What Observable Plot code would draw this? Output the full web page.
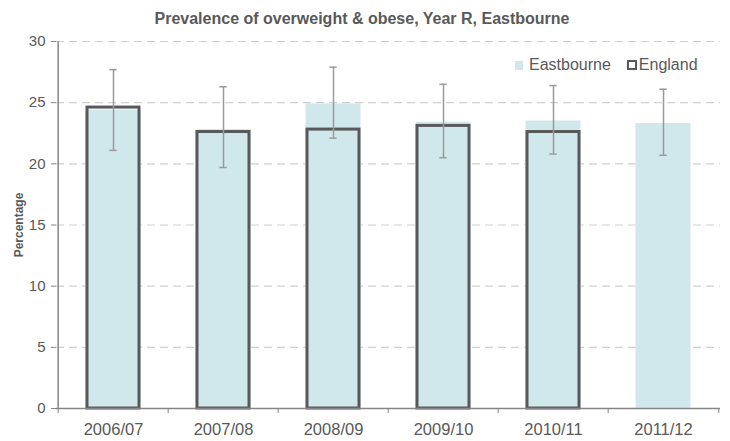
<!DOCTYPE html>
<html>
<head>
<meta charset="utf-8">
<script src="https://cdn.jsdelivr.net/npm/d3@7"></script>
<script src="https://cdn.jsdelivr.net/npm/@observablehq/plot@0.6"></script>
<style>
  body { margin: 0; background: #fff; font-family: Arial, "Liberation Sans", sans-serif; }
  #chart { position: relative; width: 730px; height: 441px; }
  #title { position: absolute; top: 10px; left: 0; width: 724px; text-align: center;
           font-weight: bold; font-size: 16px; line-height: 18px; color: #595959; }
  #legend { position: absolute; top: 56px; left: 515px; font-size: 16px; line-height: 18px;
            color: #595959; display: flex; align-items: center; white-space: nowrap; }
  #legend .sw { display: inline-block; box-sizing: border-box; margin-right: 6px; }
  #legend .fill { width: 8px; height: 9px; background: #d0e8ec; }
  #legend .outline { width: 10px; height: 10px; border: 2.5px solid #595959; margin-left: 16px; margin-right: 2px; }
</style>
</head>
<body>
<div id="chart">
  <div id="title">Prevalence of overweight &amp; obese, Year R, Eastbourne</div>
  <div id="legend"></div>
</div>
<script>
// School years and prevalence (%) of overweight & obese children in Reception
const years = ["2006/07", "2007/08", "2008/09", "2009/10", "2010/11", "2011/12"];
const eastbourne = [24.4, 22.8, 24.9, 23.4, 23.5, 23.3];
const england = [24.6, 22.6, 22.8, 23.1, 22.6, null];
// 95% confidence interval for Eastbourne
const ciLow = [21.1, 19.7, 22.1, 20.5, 20.8, 20.7];
const ciHigh = [27.7, 26.3, 27.9, 26.5, 26.4, 26.1];
const yTicks = [0, 5, 10, 15, 20, 25, 30];
const seriesNames = ["Eastbourne", "England"];

const rows = years.map((year, i) => ({
  year, eastbourne: eastbourne[i], england: england[i], lo: ciLow[i], hi: ciHigh[i]
}));

const W = 730, H = 441, mL = 56, mR = 10, mT = 41, mB = 33;
const step = (W - mL - mR) / years.length;
const textColor = "#595959";
const axisColor = "#868686";
const ciColor = "#9a9a9a";

const chart = Plot.plot({
  width: W, height: H,
  marginLeft: mL, marginRight: mR, marginTop: mT, marginBottom: mB,
  style: { fontFamily: "Arial, 'Liberation Sans', sans-serif", fontSize: "15px", color: textColor, background: "white" },
  x: { domain: years, padding: 0 },
  y: { domain: [0, 30] },
  marks: [
    // dashed gridlines
    Plot.ruleY(yTicks.filter(v => v > 0), { stroke: "#d0d0d0", strokeWidth: 1.2, strokeDasharray: "8,5" }),
    // Eastbourne bars
    Plot.barY(rows, { x: "year", y: "eastbourne", fill: "#d0e8ec", insetLeft: 27.5, insetRight: 27.5 }),
    // England outline bars
    Plot.barY(rows.filter(d => d.england != null), {
      x: "year", y: "england", fill: "none", stroke: "#595959", strokeWidth: 3, insetLeft: 29, insetRight: 29
    }),
    // confidence intervals
    Plot.ruleX(rows, { x: "year", y1: "lo", y2: "hi", stroke: ciColor, strokeWidth: 1.5 }),
    Plot.tickY(rows, { x: "year", y: "lo", stroke: ciColor, strokeWidth: 1.5, inset: (step - 8) / 2 }),
    Plot.tickY(rows, { x: "year", y: "hi", stroke: ciColor, strokeWidth: 1.5, inset: (step - 8) / 2 }),
    // axes
    Plot.axisY({ ticks: yTicks, tickSize: 5, tickPadding: 6, fontSize: 15, stroke: axisColor, fill: textColor, label: null }),
    Plot.axisX({ tickSize: 0, tickPadding: 15, fontSize: 16.5, fill: textColor, label: null }),
    Plot.ruleY([0], { stroke: axisColor, strokeWidth: 1.5 }),
    Plot.ruleX([years[0]], { x: d => d, y1: 0, y2: 30, dx: -step / 2, stroke: axisColor, strokeWidth: 1.5 }),
    // category boundary ticks on the x axis
    Plot.ruleX(years, { x: d => d, y1: 0, y2: 0, insetBottom: -5, dx: -step / 2, stroke: axisColor }),
    Plot.ruleX([years[years.length - 1]], { x: d => d, y1: 0, y2: 0, insetBottom: -5, dx: step / 2, stroke: axisColor }),
    // y axis title
    Plot.text(["Percentage"], {
      text: d => d, frameAnchor: "left", textAnchor: "middle", rotate: -90, dx: -37,
      fontWeight: "bold", fontSize: 12, fill: textColor
    })
  ]
});
chart.style.position = "absolute";
chart.style.left = "0";
chart.style.top = "0";
document.getElementById("chart").prepend(chart);

// legend
const legend = document.getElementById("legend");
seriesNames.forEach((name, i) => {
  const sw = document.createElement("span");
  sw.className = "sw " + (i === 0 ? "fill" : "outline");
  legend.appendChild(sw);
  const label = document.createElement("span");
  label.textContent = name;
  legend.appendChild(label);
});
</script>
</body>
</html>
